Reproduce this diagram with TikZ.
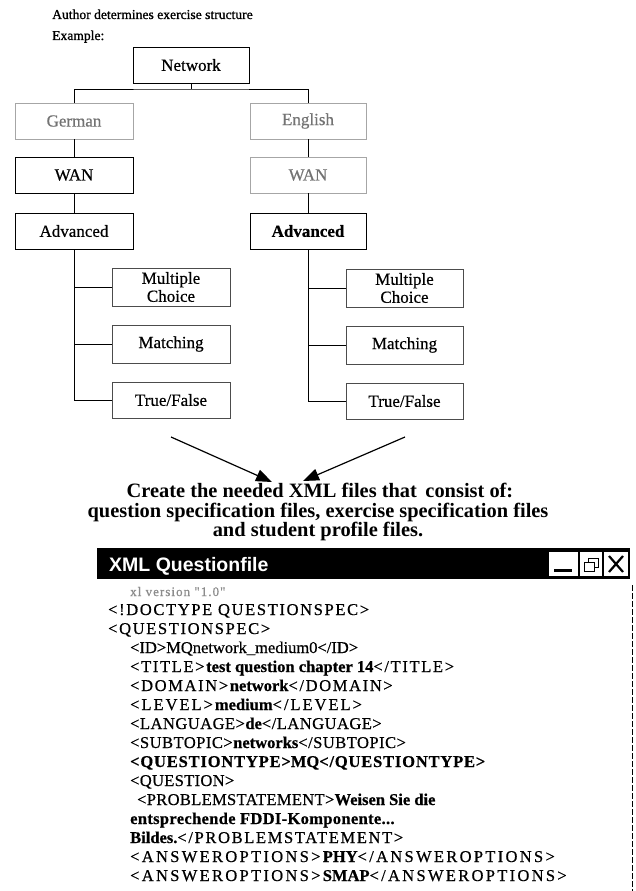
\documentclass[tikz,border=0pt]{standalone}
\usepackage{fontspec}
\setmainfont{Liberation Serif}
\newfontfamily\winfont{Liberation Sans}
\newfontfamily\xmlfont[FakeBold=0.6]{Liberation Serif}
\newfontfamily\headfont[FakeBold=1.0]{Liberation Serif}
\newfontfamily\boxfont[FakeBold=0.5]{Liberation Serif}
% tags set with a given letter spacing: \tg[spacing]{text}
\newcommand{\tg}[2][10]{{\addfontfeature{LetterSpace=#1}#2}}
\usetikzlibrary{arrows.meta}
\tikzset{
  treebox/.style={draw=black, line width=0.6pt, fill=white, minimum width=118pt, minimum height=36pt,
    inner sep=1pt, align=center, font=\boxfont\fontsize{17}{18}\selectfont},
  greybox/.style={treebox, draw=black!35, text=black!55},
  subbox/.style={treebox, draw=black!70, minimum height=38pt},
  link/.style={line width=0.6pt, black},
  bigarrow/.style={line width=1.2pt, -{Triangle[length=16pt, width=12pt]}},
  xmlline/.style={anchor=base west, inner sep=0pt, font=\xmlfont\fontsize{16.5}{16.5}\selectfont},
  caption/.style={anchor=base west, inner sep=0pt, font=\headfont\fontsize{13.6}{14}\selectfont},
  boldline/.style={anchor=base, inner sep=0pt, font=\bfseries\fontsize{20.4}{20.4}\selectfont}
}
\begin{document}
\begin{tikzpicture}[x=1pt, y=-1pt]
\useasboundingbox (0,0) rectangle (636,891);
\fill[white] (0,0) rectangle (636,891);

% heading
\node[caption] (hd1) at (52,19) {Author determines exercise structure};
\node[caption] (hd2) at (52,40) {Example:};

% tree of the exercise structure
\node[treebox, minimum width=116pt] (net) at (191,65) {Network};
\node[greybox] (ger) at (74,121) {German};
\node[greybox, minimum width=116pt] (eng) at (308,121) {English};
\node[treebox] (gwan) at (74,175) {WAN};
\node[greybox, minimum width=116pt] (ewan) at (308,175) {WAN};
\node[treebox] (gadv) at (74,231) {Advanced};
\node[treebox, minimum width=116pt] (eadv) at (308,231) {\bfseries Advanced};

\coordinate (bus) at (191,89);
\draw[link] (net.south) -- (bus);
\draw[link] (ger.north) |- (bus) -| (eng.north);
\draw[link] (ger.south) -- (gwan.north);
\draw[link] (gwan.south) -- (gadv.north);
\draw[link] (eng.south) -- (ewan.north);
\draw[link] (ewan.south) -- (eadv.north);

% question types
\node[subbox] (gmc)  at (171,287) {Multiple\\Choice};
\node[subbox] (gmat) at (171,344) {Matching};
\node[subbox, minimum height=36pt] (gtf) at (171,400) {True/False};
\node[subbox, minimum width=117pt] (emc)  at (404.5,288) {Multiple\\Choice};
\node[subbox, minimum width=117pt] (emat) at (404.5,345) {Matching};
\node[subbox, minimum width=117pt, minimum height=36pt] (etf) at (404.5,401) {True/False};

\draw[link] (gadv.south) |- (gmc.west);
\draw[link] (gadv.south) |- (gmat.west);
\draw[link] (gadv.south) |- (gtf.west);
\draw[link] (eadv.south) |- (emc.west);
\draw[link] (eadv.south) |- (emat.west);
\draw[link] (eadv.south) |- (etf.west);

% summary text and the arrows pointing at it
\node[boldline] (t1) at (320,497) {Create the needed XML files that\, consist of:};
\node[boldline] (t2) at (318,517) {question specification files, exercise specification files};
\node[boldline] (t3) at (318,536) {and student profile files.};
\coordinate (la) at (171,437);
\coordinate (ra) at (405,437);
\coordinate (lt) at (272,482);
\coordinate (rt) at (303,481);
\draw[bigarrow] (la) -- (lt);
\draw[bigarrow] (ra) -- (rt);

% window title bar
\fill[black] (97,548) rectangle (630,579);
\node[anchor=base west, inner sep=0pt, text=white, font=\winfont\bfseries\fontsize{19.5}{19.5}\selectfont] (title) at (109,571) {XML Questionfile};
\node[draw=black, fill=white, minimum width=30pt, minimum height=25pt, inner sep=0pt] (bmin) at (563,564) {};
\node[draw=black, fill=white, minimum width=23pt, minimum height=25pt, inner sep=0pt] (bres) at (591,564) {};
\node[draw=black, fill=white, minimum width=25pt, minimum height=25pt, inner sep=0pt] (bclose) at (616,564) {};
\fill[black] ([xshift=-9pt, yshift=-8pt]bmin.center) rectangle ([xshift=9pt, yshift=-5pt]bmin.center);
\draw[line width=0.8pt] ([xshift=-7pt, yshift=-7pt]bres.center) rectangle ([xshift=3pt, yshift=2pt]bres.center);
\draw[line width=0.8pt] ([xshift=-3pt, yshift=2pt]bres.center) |- ([xshift=7pt, yshift=6pt]bres.center) |- ([xshift=3pt, yshift=-3pt]bres.center);
\draw[line width=2.2pt] ([xshift=-7pt, yshift=-8pt]bclose.center) -- ([xshift=7pt, yshift=8pt]bclose.center);
\draw[line width=2.2pt] ([xshift=-7pt, yshift=8pt]bclose.center) -- ([xshift=7pt, yshift=-8pt]bclose.center);

% window edge
\draw[black, line width=1pt, dash pattern=on 6pt off 2pt] (632,585) -- (632,891);

% file content
\node[xmlline, text=black!45, font=\xmlfont\fontsize{13}{13}\selectfont] (l0) at (130,596) {\tg[8]{xl version "1.0"}};
\node[xmlline] (l1) at (108,615) {\tg{<!DOCTYPE QUESTIONSPEC>}};
\node[xmlline] (l2) at (108,634) {\tg{<QUESTIONSPEC>}};
\node[xmlline] (l3) at (130,653) {\tg[0]{<ID>}MQnetwork\_medium0\tg[0]{</ID>}};
\node[xmlline] (l4) at (130,672) {\tg{<TITLE>}\textbf{test question chapter 14}\tg{</TITLE>}};
\node[xmlline] (l5) at (130,691) {\tg{<DOMAIN>}\textbf{network}\tg{</DOMAIN>}};
\node[xmlline] (l6) at (130,710) {\tg[12]{<LEVEL>}\textbf{medium}\tg[12]{</LEVEL>}};
\node[xmlline] (l7) at (130,729) {\tg[3]{<LANGUAGE>}\textbf{de}\tg[3]{</LANGUAGE>}};
\node[xmlline] (l8) at (130,748) {\tg[3]{<SUBTOPIC>}\textbf{networks}\tg[3]{</SUBTOPIC>}};
\node[xmlline] (l9) at (130,767) {\bfseries\tg[5]{<QUESTIONTYPE>}MQ\tg[5]{</QUESTIONTYPE>}};
\node[xmlline] (l10) at (130,786) {\tg[2]{<QUESTION>}};
\node[xmlline] (l11) at (137,805) {\tg[2]{<PROBLEMSTATEMENT>}\textbf{Weisen Sie die}};
\node[xmlline] (l12) at (130,824) {\bfseries\tg[2]{entsprechende FDDI-Komponente...}};
\node[xmlline] (l13) at (130,843) {\textbf{Bildes.}\tg{</PROBLEMSTATEMENT>}};
\node[xmlline] (l14) at (130,862) {\tg[14]{<ANSWEROPTIONS>}\textbf{PHY}\tg[14]{</ANSWEROPTIONS>}};
\node[xmlline] (l15) at (130,881) {\tg[14]{<ANSWEROPTIONS>}\textbf{SMAP}\tg[14]{</ANSWEROPTIONS>}};
\end{tikzpicture}
\end{document}
